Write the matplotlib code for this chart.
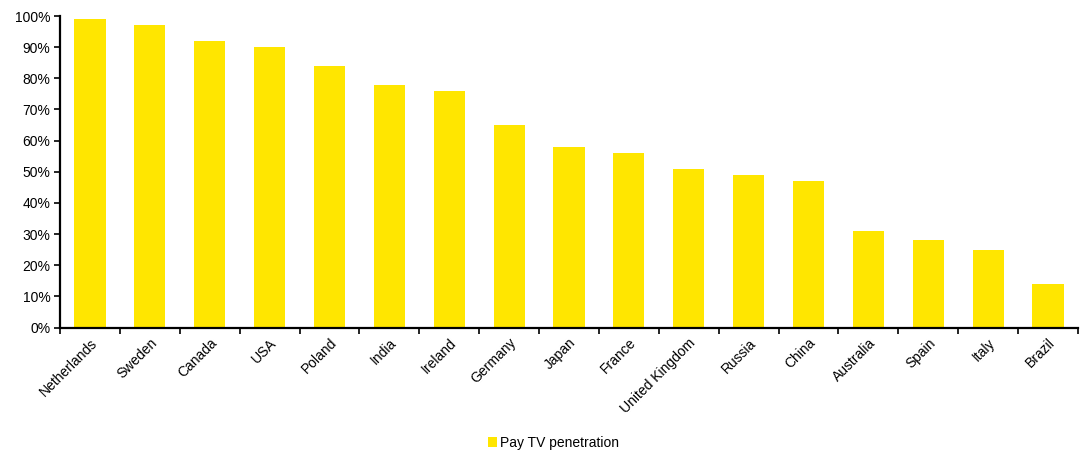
import matplotlib
matplotlib.use("Agg")
import matplotlib.pyplot as plt
from matplotlib.ticker import PercentFormatter, FixedLocator, NullFormatter
from matplotlib.patches import Patch

countries = ["Netherlands", "Sweden", "Canada", "USA", "Poland", "India", "Ireland",
             "Germany", "Japan", "France", "United Kingdom", "Russia", "China",
             "Australia", "Spain", "Italy", "Brazil"]
penetration = [99, 97, 92, 90, 84, 78, 76, 65, 58, 56, 51, 49, 47, 31, 28, 25, 14]
series_name = "Pay TV penetration"
bar_color = "#FFE600"

plt.rcParams["font.family"] = ["Liberation Sans", "DejaVu Sans"]
plt.rcParams["font.size"] = 10

fig = plt.figure(figsize=(10.85, 4.55), dpi=100)
ax = fig.add_axes([0.0553, 0.2802, 0.9382, 0.6846])

x = list(range(len(countries)))
ax.bar(x, penetration, width=0.52, color=bar_color, edgecolor="none")

ax.set_xlim(-0.5, len(countries) - 0.5)
ax.set_ylim(0, 100)
ax.set_yticks(range(0, 101, 10))
ax.yaxis.set_major_formatter(PercentFormatter(decimals=0))

# Category labels at bar centres, tick marks at the category boundaries
ax.set_xticks(x)
ax.set_xticklabels(countries, rotation=45, ha="right", rotation_mode="anchor")
ax.tick_params(axis="x", which="major", length=0, pad=6)
ax.xaxis.set_minor_locator(FixedLocator([i - 0.5 for i in range(len(countries) + 1)]))
ax.xaxis.set_minor_formatter(NullFormatter())
ax.tick_params(axis="x", which="minor", length=4, width=1.2, direction="out")
ax.tick_params(axis="y", length=4, width=1.2, direction="out", pad=3)

for side in ("top", "right"):
    ax.spines[side].set_visible(False)
for side in ("left", "bottom"):
    ax.spines[side].set_linewidth(1.6)
    ax.spines[side].set_color("black")

fig.legend(handles=[Patch(facecolor=bar_color, edgecolor="none", label=series_name)],
           loc="center", bbox_to_anchor=(0.51, 0.027), frameon=False,
           handlelength=0.7, handleheight=0.7, handletextpad=0.2, fontsize=10)

fig.savefig("out.png", dpi=100)
